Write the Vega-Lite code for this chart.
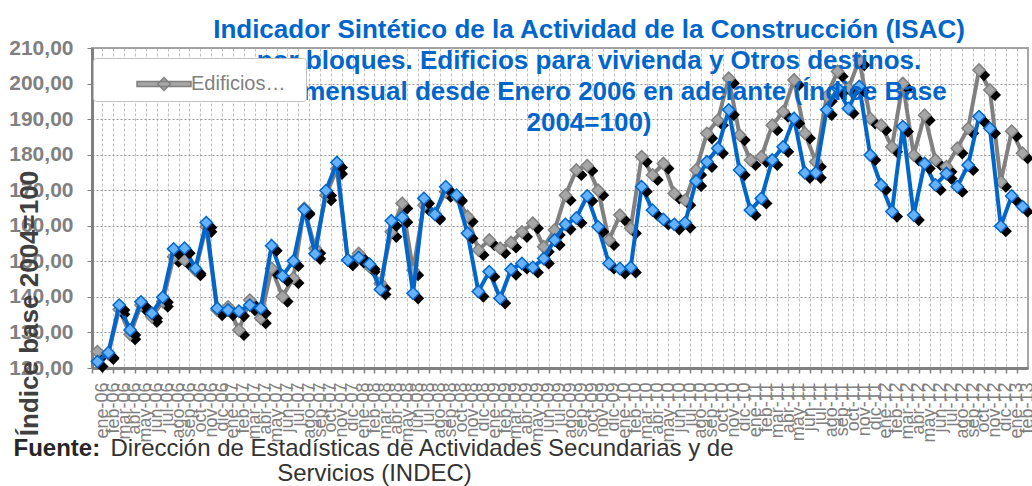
{
  "$schema": "https://vega.github.io/schema/vega-lite/v6.json",
  "width": 936,
  "height": 320,
  "autosize": {"type": "none"},
  "padding": {"left": 92, "top": 48, "right": 4, "bottom": 118},
  "background": "white",
  "title": {
    "text": ["Indicador Sintético de la Actividad de la Construcción (ISAC)", "por bloques. Edificios para vivienda y Otros destinos.", "Serie mensual desde Enero 2006 en adelante (Índice Base", "2004=100)"],
    "orient": "none",
    "anchor": "middle",
    "frame": "group",
    "dx": 497,
    "dy": -31,
    "offset": 0,
    "baseline": "top",
    "fontSize": 26,
    "lineHeight": 31,
    "font": "Liberation Sans",
    "fontWeight": "bold",
    "color": "#0066CC",
    "zindex": 0
  },
  "data": {
    "values": [
      {"mes": "ene-06", "vivienda": 124.6, "otros": 121.8},
      {"mes": "feb-06", "vivienda": 124.0, "otros": 124.3},
      {"mes": "mar-06", "vivienda": 136.5, "otros": 137.7},
      {"mes": "abr-06", "vivienda": 129.5, "otros": 130.7},
      {"mes": "may-06", "vivienda": 137.7, "otros": 138.6},
      {"mes": "jun-06", "vivienda": 134.4, "otros": 135.4},
      {"mes": "jul-06", "vivienda": 138.7, "otros": 139.9},
      {"mes": "ago-06", "vivienda": 151.3, "otros": 153.5},
      {"mes": "sep-06", "vivienda": 150.4, "otros": 153.7},
      {"mes": "oct-06", "vivienda": 147.5, "otros": 148.0},
      {"mes": "nov-06", "vivienda": 159.7, "otros": 160.9},
      {"mes": "dic-06", "vivienda": 136.3, "otros": 136.8},
      {"mes": "ene-07", "vivienda": 137.2, "otros": 136.3},
      {"mes": "feb-07", "vivienda": 130.7, "otros": 136.0},
      {"mes": "mar-07", "vivienda": 139.1, "otros": 137.7},
      {"mes": "abr-07", "vivienda": 134.0, "otros": 136.8},
      {"mes": "may-07", "vivienda": 148.0, "otros": 154.4},
      {"mes": "jun-07", "vivienda": 140.1, "otros": 145.9},
      {"mes": "jul-07", "vivienda": 145.3, "otros": 150.1},
      {"mes": "ago-07", "vivienda": 164.9, "otros": 164.6},
      {"mes": "sep-07", "vivienda": 153.7, "otros": 152.1},
      {"mes": "oct-07", "vivienda": 168.6, "otros": 169.9},
      {"mes": "nov-07", "vivienda": 176.0, "otros": 177.8},
      {"mes": "dic-07", "vivienda": 150.4, "otros": 150.4},
      {"mes": "ene-08", "vivienda": 152.2, "otros": 151.1},
      {"mes": "feb-08", "vivienda": 148.5, "otros": 149.2},
      {"mes": "mar-08", "vivienda": 143.8, "otros": 142.1},
      {"mes": "abr-08", "vivienda": 158.3, "otros": 161.4},
      {"mes": "may-08", "vivienda": 166.3, "otros": 162.4},
      {"mes": "jun-08", "vivienda": 147.5, "otros": 141.0},
      {"mes": "jul-08", "vivienda": 165.8, "otros": 167.7},
      {"mes": "ago-08", "vivienda": 163.5, "otros": 163.2},
      {"mes": "sep-08", "vivienda": 169.6, "otros": 171.0},
      {"mes": "oct-08", "vivienda": 168.3, "otros": 168.6},
      {"mes": "nov-08", "vivienda": 162.6, "otros": 157.9},
      {"mes": "dic-08", "vivienda": 153.2, "otros": 141.5},
      {"mes": "ene-09", "vivienda": 156.0, "otros": 147.1},
      {"mes": "feb-09", "vivienda": 153.7, "otros": 139.6},
      {"mes": "mar-09", "vivienda": 155.3, "otros": 147.7},
      {"mes": "abr-09", "vivienda": 158.3, "otros": 149.4},
      {"mes": "may-09", "vivienda": 160.7, "otros": 148.3},
      {"mes": "jun-09", "vivienda": 154.1, "otros": 150.8},
      {"mes": "jul-09", "vivienda": 158.8, "otros": 156.0},
      {"mes": "ago-09", "vivienda": 168.6, "otros": 160.4},
      {"mes": "sep-09", "vivienda": 175.7, "otros": 162.2},
      {"mes": "oct-09", "vivienda": 176.9, "otros": 168.4},
      {"mes": "nov-09", "vivienda": 170.0, "otros": 159.7},
      {"mes": "dic-09", "vivienda": 156.0, "otros": 149.4},
      {"mes": "ene-10", "vivienda": 163.0, "otros": 148.0},
      {"mes": "feb-10", "vivienda": 159.3, "otros": 148.3},
      {"mes": "mar-10", "vivienda": 179.4, "otros": 171.0},
      {"mes": "abr-10", "vivienda": 174.3, "otros": 164.4},
      {"mes": "may-10", "vivienda": 177.5, "otros": 161.8},
      {"mes": "jun-10", "vivienda": 169.1, "otros": 160.4},
      {"mes": "jul-10", "vivienda": 167.2, "otros": 160.9},
      {"mes": "ago-10", "vivienda": 175.7, "otros": 172.6},
      {"mes": "sep-10", "vivienda": 186.0, "otros": 178.0},
      {"mes": "oct-10", "vivienda": 189.7, "otros": 181.8},
      {"mes": "nov-10", "vivienda": 201.5, "otros": 192.6},
      {"mes": "dic-10", "vivienda": 185.5, "otros": 175.7},
      {"mes": "ene-11", "vivienda": 178.5, "otros": 164.4},
      {"mes": "feb-11", "vivienda": 179.4, "otros": 167.7},
      {"mes": "mar-11", "vivienda": 188.3, "otros": 178.5},
      {"mes": "abr-11", "vivienda": 192.1, "otros": 182.2},
      {"mes": "may-11", "vivienda": 201.0, "otros": 190.2},
      {"mes": "jun-11", "vivienda": 186.0, "otros": 174.9},
      {"mes": "jul-11", "vivienda": 178.0, "otros": 174.9},
      {"mes": "ago-11", "vivienda": 196.4, "otros": 192.6},
      {"mes": "sep-11", "vivienda": 203.4, "otros": 198.7},
      {"mes": "oct-11", "vivienda": 198.7, "otros": 193.0},
      {"mes": "nov-11", "vivienda": 206.6, "otros": 199.2},
      {"mes": "dic-11", "vivienda": 190.2, "otros": 179.9},
      {"mes": "ene-12", "vivienda": 188.3, "otros": 171.5},
      {"mes": "feb-12", "vivienda": 182.2, "otros": 164.0},
      {"mes": "mar-12", "vivienda": 200.0, "otros": 187.9},
      {"mes": "abr-12", "vivienda": 179.9, "otros": 163.0},
      {"mes": "may-12", "vivienda": 191.1, "otros": 177.5},
      {"mes": "jun-12", "vivienda": 178.5, "otros": 171.5},
      {"mes": "jul-12", "vivienda": 176.6, "otros": 174.7},
      {"mes": "ago-12", "vivienda": 181.8, "otros": 171.0},
      {"mes": "sep-12", "vivienda": 187.4, "otros": 177.1},
      {"mes": "oct-12", "vivienda": 203.8, "otros": 190.7},
      {"mes": "nov-12", "vivienda": 198.2, "otros": 187.4},
      {"mes": "dic-12", "vivienda": 172.4, "otros": 159.9},
      {"mes": "ene-13", "vivienda": 186.6, "otros": 168.4},
      {"mes": "feb-13", "vivienda": 180.4, "otros": 165.4}
    ]
  },
  "resolve": {"axis": {"x": "independent"}},
  "layer": [
    {
      "mark": {"type": "line", "color": "#808080", "strokeWidth": 4},
      "encoding": {
        "x": {
          "field": "mes",
          "type": "ordinal",
          "sort": null,
          "scale": {"type": "band", "paddingInner": 0, "paddingOuter": 0},
          "axis": {
            "orient": "bottom",
            "bandPosition": 0,
            "labelOffset": 5.4,
            "labelAngle": -90,
            "labelFontSize": 18,
            "labelColor": "#808080",
            "labelPadding": 9,
            "labelOverlap": false,
            "labelBound": false,
            "tickSize": 5,
            "tickColor": "#808080",
            "tickWidth": 1.5,
            "domainColor": "#808080",
            "domainWidth": 3,
            "grid": true,
            "gridColor": "#BFBFBF",
            "gridDash": [3, 2],
            "gridWidth": 1,
            "title": "Dirección de Estadísticas de Actividades Secundarias y de",
            "titleFontSize": 24,
            "titleFontWeight": "normal",
            "titleColor": "#333333",
            "titleX": 18,
            "titleY": 68,
            "titleAlign": "left",
            "titleBaseline": "top"
          }
        },
        "y": {
          "field": "vivienda",
          "type": "quantitative",
          "scale": {"domain": [120, 210], "nice": false, "zero": false},
          "axis": {
            "values": [120, 130, 140, 150, 160, 170, 180, 190, 200, 210],
            "format": ".2f",
            "labelOverlap": false,
            "labelFlush": false,
            "labelFontSize": 21,
            "labelFontWeight": "bold",
            "labelColor": "#808080",
            "labelPadding": 14,
            "tickSize": 5,
            "tickColor": "#808080",
            "domainColor": "#808080",
            "domainWidth": 3,
            "grid": true,
            "gridColor": "#999999",
            "gridDash": [2, 2],
            "gridWidth": 1,
            "title": "Índice base 2004=100",
            "titleFontSize": 26,
            "titleFontWeight": "bold",
            "titleColor": "#404040",
            "titleX": -63,
            "titleY": 255,
            "titleAlign": "center",
            "titleBaseline": "middle",
            "titleAngle": -90
          }
        }
      }
    },
    {
      "mark": {"type": "point", "shape": "diamond", "filled": true, "color": "black", "opacity": 1, "size": 150, "xOffset": 5, "yOffset": 5},
      "encoding": {
        "x": {
          "field": "mes",
          "type": "ordinal",
          "sort": null,
          "axis": {
            "orient": "bottom",
            "labels": false,
            "ticks": false,
            "domain": false,
            "grid": false,
            "title": "Fuente:",
            "titleFontSize": 24,
            "titleFontWeight": "bold",
            "titleColor": "#262626",
            "titleX": -79,
            "titleY": 68,
            "titleAlign": "left",
            "titleBaseline": "top"
          }
        },
        "y": {"field": "vivienda", "type": "quantitative"}
      }
    },
    {
      "mark": {"type": "point", "shape": "diamond", "filled": true, "opacity": 1, "size": 150, "stroke": "#808080", "strokeWidth": 1.5},
      "encoding": {
        "x": {
          "field": "mes",
          "type": "ordinal",
          "sort": null,
          "axis": {
            "orient": "bottom",
            "labels": false,
            "ticks": false,
            "domain": false,
            "grid": false,
            "title": "Servicios (INDEC)",
            "titleFontSize": 24,
            "titleFontWeight": "normal",
            "titleColor": "#333333",
            "titleX": 282,
            "titleY": 93,
            "titleAlign": "center",
            "titleBaseline": "top"
          }
        },
        "y": {"field": "vivienda", "type": "quantitative"},
        "fill": {
          "datum": "Edificios…",
          "type": "nominal",
          "scale": {"range": ["#A6A6A6"]},
          "legend": {
            "orient": "none",
            "legendX": 1,
            "legendY": 10,
            "zindex": 5,
            "title": ".",
            "titleColor": "transparent",
            "titleOrient": "right",
            "titleFontSize": 20,
            "titlePadding": 8,
            "padding": 7,
            "strokeColor": "#BFBFBF",
            "fillColor": "white",
            "cornerRadius": 3,
            "labelFontSize": 20,
            "labelColor": "#808080",
            "labelFont": "Liberation Sans",
            "labelOffset": 53,
            "symbolSize": 1296,
            "symbolType": "M1,-0.14L4,-0.14L4,0.14L1,0.14Z M2.5,-0.36L2.86,0L2.5,0.36L2.14,0Z",
            "encode": {
              "legend": {"update": {"strokeWidth": {"value": 4}}},
              "symbols": {"update": {"fill": {"value": "#808080"}, "stroke": {"value": "#808080"}, "shape": {"value": "M0.8,-0.14L3.8,-0.14L3.8,0.14L0.8,0.14Z M2.3,-0.36L2.66,0L2.3,0.36L1.94,0Z"}, "opacity": {"value": 1}}}
            }
          }
        }
      }
    },
    {
      "mark": {"type": "line", "color": "#0066CC", "strokeWidth": 4},
      "encoding": {
        "x": {"field": "mes", "type": "ordinal", "sort": null, "axis": null},
        "y": {"field": "otros", "type": "quantitative"}
      }
    },
    {
      "mark": {"type": "point", "shape": "diamond", "filled": true, "color": "black", "opacity": 1, "size": 150, "xOffset": 5, "yOffset": 5},
      "encoding": {
        "x": {"field": "mes", "type": "ordinal", "sort": null, "axis": null},
        "y": {"field": "otros", "type": "quantitative"}
      }
    },
    {
      "mark": {"type": "point", "shape": "diamond", "filled": true, "opacity": 1, "size": 150, "fill": "#66B2FF", "stroke": "#0066CC", "strokeWidth": 1.5},
      "encoding": {
        "x": {"field": "mes", "type": "ordinal", "sort": null, "axis": null},
        "y": {"field": "otros", "type": "quantitative"}
      }
    }
  ],
  "config": {
    "font": "Liberation Sans",
    "locale": {"number": {"decimal": ",", "thousands": ".", "grouping": [3], "currency": ["$", ""]}},
    "view": {"stroke": "#A6A6A6", "strokeWidth": 2},
    "axis": {"labelFont": "Liberation Sans", "titleFont": "Liberation Sans"},
    "axisY": {"labelOverlap": false, "labelFlush": false, "tickCount": 10},
    "axisX": {"labelOverlap": false}
  }
}
